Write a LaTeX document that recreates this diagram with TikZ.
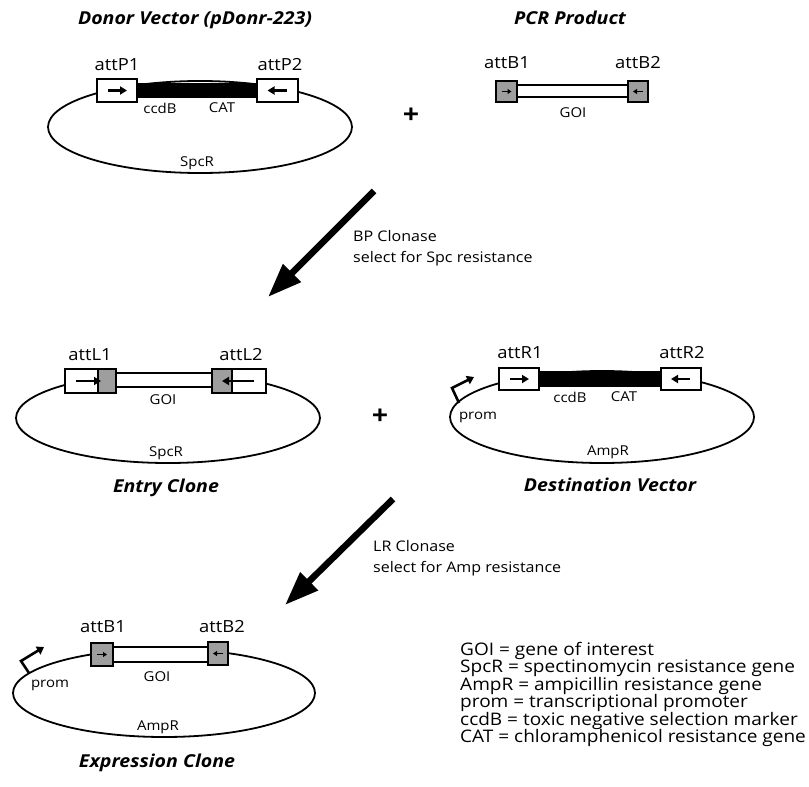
\documentclass[tikz,border=0pt]{standalone}
\usepackage{fontspec}
\setmainfont[FakeStretch=1.1]{Open Sans}
\usetikzlibrary{shapes.geometric,arrows.meta}
\begin{document}
\begin{tikzpicture}[x=1pt,y=-1pt,
  plasmid/.style={draw, ellipse, line width=1.8pt, inner sep=0pt},
  attbox/.style={draw, fill=white, line width=1.3pt, inner sep=0pt},
  graybox/.style={draw, fill=black!38, line width=1.3pt, inner sep=0pt},
  grayfill/.style={fill=black!38, draw=none, inner sep=0pt},
  barbox/.style={fill=black, draw=none, inner sep=0pt},
  goibox/.style={draw, fill=white, line width=1.6pt, inner sep=0pt},
  attarrow/.style={line width=2.2pt, -{Triangle[length=7pt,width=8pt]}},
  smallarrow/.style={line width=1.2pt, -{Triangle[length=4pt,width=5pt]}},
  bigarrow/.style={line width=6.5pt, -{Triangle[length=34pt,width=24pt]}},
  promarrow/.style={line width=2.6pt, -{Triangle[length=7pt,width=9pt]}},
  attlabel/.style={inner sep=0pt, font=\fontsize{16.7}{18}\selectfont},
  smalllabel/.style={inner sep=0pt, font=\fontsize{13.6}{15}\selectfont},
  title/.style={inner sep=0pt, font=\fontsize{17.8}{20}\selectfont\bfseries\itshape},
  steptext/.style={inner sep=0pt, anchor=west, align=left, font=\fontsize{14.6}{21}\selectfont},
  legendtext/.style={inner sep=0pt, anchor=north west, align=left, font=\fontsize{17.3}{17.4}\selectfont},
  plus/.style={inner sep=0pt, font=\fontsize{26}{26}\selectfont\bfseries}
]
\useasboundingbox (0,0) rectangle (809,787);

% ---------------- Donor vector ----------------
\node[title] (tdonor) at (195,20) {Donor Vector (pDonr-223)};
\node[plasmid, minimum width=304pt, minimum height=92pt] (pdonor) at (200,127) {};
\node[barbox, minimum width=122pt, minimum height=15pt] (donorbar) at (197,90.5) {};
\node[attbox, minimum width=40pt, minimum height=23pt] (attP1) at (117,90.5) {};
\node[attbox, minimum width=41pt, minimum height=23pt] (attP2) at (277.5,90.5) {};
\draw[attarrow] (attP1.center) ++(-9,0) coordinate (p1s) -- ++(19,0) coordinate (p1e);
\draw[attarrow] (attP2.center) ++(9,0) coordinate (p2s) -- ++(-19,0) coordinate (p2e);
\node[attlabel] (lP1) at (117,65) {attP1};
\node[attlabel] (lP2) at (280,65) {attP2};
\node[smalllabel] (lccdB1) at (160,108) {ccdB};
\node[smalllabel] (lCAT1) at (222,108) {CAT};
\node[smalllabel] (lSpc1) at (197,163) {SpcR};

\node[plus] (plus1) at (411,116) {+};

% ---------------- PCR product ----------------
\node[title] (tpcr) at (570,18) {PCR Product};
\node[goibox, minimum width=111pt, minimum height=12pt] (pcrgoi) at (572.5,91) {};
\node[graybox, minimum width=21pt, minimum height=21pt] (pB1) at (506.5,91.5) {};
\node[graybox, minimum width=20pt, minimum height=21pt] (pB2) at (638,91.5) {};
\draw[smallarrow] (pB1.center) ++(-5,0) -- ++(10,0);
\draw[smallarrow] (pB2.center) ++(5,0) -- ++(-10,0);
\node[attlabel] (lpB1) at (507,63) {attB1};
\node[attlabel] (lpB2) at (638,63) {attB2};
\node[smalllabel] (lpgoi) at (573,113) {GOI};

% ---------------- BP arrow ----------------
\coordinate (bps) at (374,191);
\coordinate (bpe) at (268,297);
\draw[bigarrow] (bps) -- (bpe);
\node[steptext] (bptext) at (353,248) {BP Clonase\\select for Spc resistance};

% ---------------- Entry clone ----------------
\node[plasmid, minimum width=304pt, minimum height=90pt] (pentry) at (168,418) {};
\node[goibox, minimum width=96pt, minimum height=14pt] (entrygoi) at (164,380) {};
\node[attbox, minimum width=51pt, minimum height=24pt] (attL1) at (90.5,381) {};
\node[grayfill, minimum width=17pt, minimum height=22.7pt] (attL1g) at (106.8,381) {};
\draw[line width=1.3pt] (98,369) -- (98,393);
\node[attbox, minimum width=54pt, minimum height=24pt] (attL2) at (239,381) {};
\node[grayfill, minimum width=19pt, minimum height=22.7pt] (attL2g) at (222.2,381) {};
\draw[line width=1.3pt] (232,369) -- (232,393);
\draw[attarrow] (76,381) -- (101,381);
\draw[attarrow] (254,381) -- (222,381);
\node[attlabel] (lL1) at (90,355) {attL1};
\node[attlabel] (lL2) at (241,355) {attL2};
\node[smalllabel] (lgoi2) at (163,400) {GOI};
\node[smalllabel] (lSpc2) at (166,453) {SpcR};
\node[title] (tentry) at (166,488) {Entry Clone};

\node[plus] (plus2) at (380,417) {+};

% ---------------- Destination vector ----------------
\node[plasmid, minimum width=304pt, minimum height=92pt] (pdest) at (602,417) {};
\node[barbox, minimum width=122pt, minimum height=16pt] (destbar) at (600,379) {};
\node[attbox, minimum width=40pt, minimum height=22pt] (attR1) at (519,379) {};
\node[attbox, minimum width=40pt, minimum height=22pt] (attR2) at (681,379) {};
\draw[attarrow] (attR1.center) ++(-9,0) -- ++(19,0);
\draw[attarrow] (attR2.center) ++(9,0) -- ++(-19,0);
\node[attlabel] (lR1) at (520,353) {attR1};
\node[attlabel] (lR2) at (682,353) {attR2};
\node[smalllabel] (lccdB2) at (570,397) {ccdB};
\node[smalllabel] (lCAT2) at (624,397) {CAT};
\coordinate (prom1a) at (459,403);
\coordinate (prom1b) at (452,388);
\coordinate (prom1c) at (474,377);
\draw[promarrow] (prom1a) -- (prom1b) -- (prom1c);
\node[smalllabel] (lprom1) at (478,417) {prom};
\node[smalllabel] (lAmp1) at (608,452) {AmpR};
\node[title] (tdest) at (610,485) {Destination Vector};

% ---------------- LR arrow ----------------
\coordinate (lrs) at (393,499);
\coordinate (lre) at (285,605);
\draw[bigarrow] (lrs) -- (lre);
\node[steptext] (lrtext) at (373,558) {LR Clonase\\select for Amp resistance};

% ---------------- Expression clone ----------------
\node[plasmid, minimum width=302pt, minimum height=88pt] (pexpr) at (164,693) {};
\node[goibox, minimum width=95pt, minimum height=15pt] (exprgoi) at (160.5,654.5) {};
\node[graybox, minimum width=22pt, minimum height=23pt] (eB1) at (102,654.5) {};
\node[graybox, minimum width=20pt, minimum height=23pt] (eB2) at (218,653.5) {};
\draw[smallarrow] (eB1.center) ++(-5,0) -- ++(10,0);
\draw[smallarrow] (eB2.center) ++(5,0) -- ++(-10,0);
\node[attlabel] (leB1) at (103,627) {attB1};
\node[attlabel] (leB2) at (222,627) {attB2};
\node[smalllabel] (lgoi3) at (157,677) {GOI};
\coordinate (prom2a) at (29,673);
\coordinate (prom2b) at (21,661);
\coordinate (prom2c) at (44,647);
\draw[promarrow] (prom2a) -- (prom2b) -- (prom2c);
\node[smalllabel] (lprom2) at (50,685) {prom};
\node[smalllabel] (lAmp2) at (158,727) {AmpR};
\node[title] (texpr) at (157,763) {Expression Clone};

% ---------------- Legend ----------------
\node[legendtext] (legend) at (460,642) {GOI = gene of interest\\
SpcR = spectinomycin resistance gene\\
AmpR = ampicillin resistance gene\\
prom = transcriptional promoter\\
ccdB = toxic negative selection marker\\
CAT = chloramphenicol resistance gene};
\end{tikzpicture}
\end{document}
